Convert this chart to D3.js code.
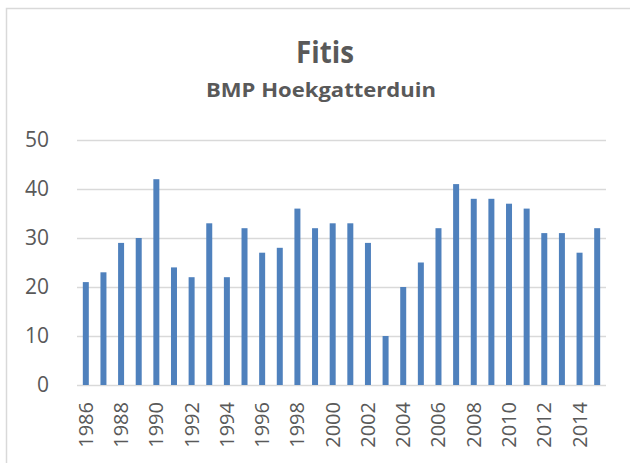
<!DOCTYPE html>
<html>
<head>
<meta charset="utf-8">
<script src="https://cdn.jsdelivr.net/npm/d3@7"></script>
<style>
    body { margin: 0; background: white; }
    text { font-family: "Open Sans", "DejaVu Sans", sans-serif; fill: #595959; }
</style>
</head>
<body>
<div id="chart"></div>
<script>
const years = d3.range(1986, 2016)
const counts = [21, 23, 29, 30, 42, 24, 22, 33, 22, 32,
                27, 28, 36, 32, 33, 33, 29, 10, 20, 25,
                32, 41, 38, 38, 37, 36, 31, 31, 27, 32]
const yTicks = [0, 10, 20, 30, 40, 50]
const title = "Fitis"
const subtitle = "BMP Hoekgatterduin"

function drawChart() {
    var width = 630,
        height = 463,
        margin = { top: 140, right: 24, bottom: 78, left: 77 };

    var svg = d3.select('#chart')
        .append("svg")
        .attr("width", width)
        .attr("height", height);

    // chart frame
    svg.append("rect")
        .attr("x", 6.5)
        .attr("y", 8.5)
        .attr("width", 640)
        .attr("height", 480)
        .attr("fill", "white")
        .attr("stroke", "#d9d9d9")
        .attr("stroke-width", 1.5);

    var plotW = width - margin.left - margin.right,
        plotH = height - margin.top - margin.bottom;

    var g = svg.append("g")
        .attr("transform", `translate(${margin.left},${margin.top})`);

    var x = d3.scaleBand().domain(years).range([0, plotW]).paddingInner(0.66).paddingOuter(0.33);
    var y = d3.scaleLinear().domain([0, 50]).range([plotH, 0]);

    // gridlines
    g.append("g")
        .selectAll("line")
        .data(yTicks)
        .enter().append("line")
        .attr("x1", 0)
        .attr("x2", plotW)
        .attr("y1", d => Math.round(y(d)) + 0.5)
        .attr("y2", d => Math.round(y(d)) + 0.5)
        .attr("stroke", "#d9d9d9")
        .attr("stroke-width", 1.5);

    // bars
    g.selectAll(".bar")
        .data(counts)
        .enter().append("rect")
        .attr("class", "bar")
        .attr("x", (d, i) => x(years[i]))
        .attr("y", d => y(d))
        .attr("width", x.bandwidth())
        .attr("height", d => plotH - y(d))
        .attr("fill", "#4f81bd");

    // y axis
    var yAxis = d3.axisLeft(y).tickValues(yTicks).tickSize(0).tickPadding(28);
    var ya = g.append("g").call(yAxis);
    ya.select(".domain").remove();
    ya.selectAll("text")
        .style("font-size", "21px")
        .attr("fill", "#595959");

    // x axis, every other year
    var xAxis = d3.axisBottom(x).tickValues(years.filter((d, i) => i % 2 === 0)).tickSize(0);
    var xa = g.append("g")
        .attr("transform", `translate(0,${plotH})`)
        .call(xAxis);
    xa.select(".domain").remove();
    xa.selectAll("text")
        .style("font-size", "20px")
        .attr("fill", "#595959")
        .attr("transform", "rotate(-90)")
        .attr("text-anchor", "end")
        .attr("dy", "0.35em")
        .attr("y", 0)
        .attr("x", -17);

    // titles
    svg.append("text")
        .attr("x", 325)
        .attr("y", 63)
        .attr("text-anchor", "middle")
        .attr("textLength", 58)
        .attr("lengthAdjust", "spacingAndGlyphs")
        .style("font-size", "31px")
        .style("font-weight", "bold")
        .text(title);

    svg.append("text")
        .attr("x", 321)
        .attr("y", 97)
        .attr("text-anchor", "middle")
        .attr("textLength", 230)
        .attr("lengthAdjust", "spacingAndGlyphs")
        .style("font-size", "20px")
        .style("font-weight", "bold")
        .text(subtitle);
}

drawChart()
</script>
</body>
</html>
